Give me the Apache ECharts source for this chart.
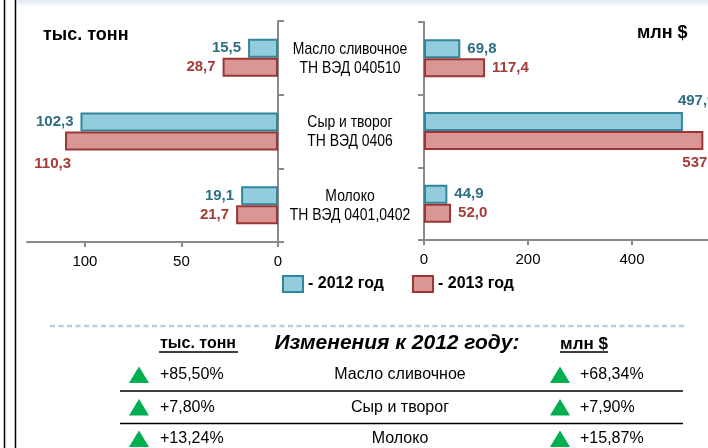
<!DOCTYPE html>
<html><head><meta charset="utf-8">
<script src="https://cdn.jsdelivr.net/npm/echarts@6/dist/echarts.min.js"></script>
<style>html,body{margin:0;padding:0;background:#fff}#c{width:708px;height:448px}</style>
</head><body><div id="c"></div>
<script>
const categories = ['Масло сливочное\nТН ВЭД 040510', 'Сыр и творог\nТН ВЭД 0406', 'Молоко\nТН ВЭД 0401,0402'];
const seriesNames = ['2012 год', '2013 год'];
const tonnes2012 = [15.5, 102.3, 19.1];
const tonnes2013 = [28.7, 110.3, 21.7];
const usd2012 = [69.8, 497.9, 44.9];
const usd2013 = [117.4, 537.2, 52.0];
const leftTicks = [0, 50, 100];
const rightTicks = [0, 200, 400];
const leftUnit = 'тыс. тонн';
const rightUnit = 'млн $';
const tableTitle = 'Изменения к 2012 году:';
const tableProducts = ['Масло сливочное', 'Сыр и творог', 'Молоко'];
const changeTonnes = ['+85,50%', '+7,80%', '+13,24%'];
const changeUsd = ['+68,34%', '+7,90%', '+15,87%'];

const SANS = '"Liberation Sans", Arial, sans-serif';
const AXIS = '#8a8a8a';
const BLUE = {fill: '#93CDDD', border: '#31859C', text: '#2E6E84'};
const RED = {fill: '#D99694', border: '#9B3634', text: '#A33B38'};
const fmt = p => p.value.toFixed(1).replace('.', ',');

// per-item label adjustments (index -> label override)
const labelTweaks = {
  left2013: {1: {offset: [13, 23]}},
  right2012: {1: {offset: [-12, -21]}},
  right2013: {1: {offset: [-28, 22]}}
};
function items(arr, tweaks) {
  return arr.map((v, i) => tweaks && tweaks[i] ? {value: v, label: tweaks[i]} : v);
}
function barSeries(name, xi, data, col, pos, tweaks) {
  return {
    type: 'bar', name, xAxisIndex: xi, yAxisIndex: xi, barWidth: 19, barGap: '0%',
    data: items(data, tweaks),
    itemStyle: {color: col.fill, borderColor: col.border, borderWidth: 2},
    label: {show: true, position: pos, distance: 7, formatter: fmt, color: col.text,
      fontFamily: SANS, fontWeight: 'bold', fontSize: 15}
  };
}
function valueAxis(gi, max, interval, ticks, inverse) {
  return {
    type: 'value', gridIndex: gi, min: 0, max, interval, inverse,
    axisLine: {show: true, lineStyle: {color: AXIS, width: 2}},
    axisTick: {show: true, customValues: ticks, length: 5, lineStyle: {color: AXIS, width: 2}},
    axisLabel: {customValues: ticks, margin: 12, color: '#000', fontSize: 15, fontFamily: SANS},
    splitLine: {show: false}
  };
}
function catAxis(gi, pos) {
  return {
    type: 'category', gridIndex: gi, position: pos, inverse: true, data: categories,
    axisLine: {show: true, lineStyle: {color: AXIS, width: 2}},
    axisTick: {show: true, length: 6, lineStyle: {color: AXIS, width: 2}},
    axisLabel: {show: false}
  };
}

const rowsY = [375, 407.5, 439];
const graphics = [
  {type: 'rect', shape: {x: 17, y: 0, width: 691, height: 5},
    style: {fill: new echarts.graphic.LinearGradient(0, 0, 0, 1, [{offset: 0, color: '#E4EAF3'}, {offset: 1, color: '#F6F8FB'}])}},
  {type: 'line', shape: {x1: 4.5, y1: 0, x2: 4.5, y2: 448}, style: {stroke: '#000', lineWidth: 1.5}},
  {type: 'line', shape: {x1: 15.5, y1: 0, x2: 15.5, y2: 448}, style: {stroke: '#000', lineWidth: 1.5}},
  {type: 'text', x: 43, y: 35, style: {text: leftUnit, font: 'bold 18px ' + SANS, fill: '#000', verticalAlign: 'middle'}},
  {type: 'text', x: 637, y: 33, style: {text: rightUnit, font: 'bold 18px ' + SANS, fill: '#000', verticalAlign: 'middle'}},
  {type: 'line', shape: {x1: 50, y1: 326, x2: 684, y2: 326}, style: {stroke: '#BCCBDF', lineWidth: 2.5, lineDash: [5, 3.5]}},
  {type: 'text', x: 198, y: 344, style: {text: leftUnit, font: 'bold 16px ' + SANS, fill: '#000', align: 'center', verticalAlign: 'middle'}},
  {type: 'line', shape: {x1: 159, y1: 352, x2: 238, y2: 352}, style: {stroke: '#000', lineWidth: 1.5}},
  {type: 'text', x: 397, y: 343, style: {text: tableTitle, font: 'italic bold 21px ' + SANS, fill: '#000', align: 'center', verticalAlign: 'middle'}},
  {type: 'text', x: 584, y: 344, style: {text: rightUnit, font: 'bold 17px ' + SANS, fill: '#000', align: 'center', verticalAlign: 'middle'}},
  {type: 'line', shape: {x1: 560, y1: 352, x2: 608, y2: 352}, style: {stroke: '#000', lineWidth: 1.5}}
];
tableProducts.forEach((p, i) => {
  const y = rowsY[i];
  graphics.push(
    {type: 'polygon', shape: {points: [[129, y + 8], [139, y - 8.5], [149, y + 8]]}, style: {fill: '#00B050'}},
    {type: 'text', x: 160, y, style: {text: changeTonnes[i], font: '16px ' + SANS, fill: '#000', verticalAlign: 'middle'}},
    {type: 'text', x: 400, y, style: {text: p, font: '16px ' + SANS, fill: '#000', align: 'center', verticalAlign: 'middle'}},
    {type: 'polygon', shape: {points: [[550, y + 8], [560, y - 8.5], [570, y + 8]]}, style: {fill: '#00B050'}},
    {type: 'text', x: 580, y, style: {text: changeUsd[i], font: '16px ' + SANS, fill: '#000', verticalAlign: 'middle'}}
  );
  if (i < tableProducts.length - 1) {
    graphics.push({type: 'line', shape: {x1: 120, y1: y + 16, x2: 683, y2: y + 16}, style: {stroke: '#000', lineWidth: 1.5}});
  }
});

const chart = echarts.init(document.getElementById('c'), null, {renderer: 'canvas'});
chart.setOption({
  animation: false,
  textStyle: {fontFamily: SANS},
  grid: [
    {left: 27, top: 21, width: 251, height: 221, outerBoundsMode: 'none'},
    {left: 424, top: 22, width: 312, height: 218, outerBoundsMode: 'none'}
  ],
  xAxis: [valueAxis(0, 130, 50, leftTicks, true), valueAxis(1, 600, 200, rightTicks, false)],
  yAxis: [catAxis(0, 'right'), catAxis(1, 'left')],
  legend: {
    data: seriesNames, left: 282, top: 275, padding: 0, itemWidth: 20, itemHeight: 16, itemGap: 28,
    icon: 'rect', formatter: '- {name}',
    textStyle: {fontFamily: SANS, fontWeight: 'bold', fontSize: 16, color: '#000'}
  },
  series: [
    barSeries(seriesNames[0], 0, tonnes2012, BLUE, 'left'),
    barSeries(seriesNames[1], 0, tonnes2013, RED, 'left', labelTweaks.left2013),
    barSeries(seriesNames[0], 1, usd2012, BLUE, 'right', labelTweaks.right2012),
    barSeries(seriesNames[1], 1, usd2013, RED, 'right', labelTweaks.right2013)
  ],
  graphic: graphics
});

// category labels centred between the two axes (narrow type), positioned from the category scale
const axL = chart.convertToPixel({xAxisIndex: 0}, 0);
const axR = chart.convertToPixel({xAxisIndex: 1}, 0);
const midX = (axL + axR) / 2 - 1;
categories.forEach(c => {
  const y = chart.convertToPixel({yAxisIndex: 0}, c);
  graphics.push({type: 'text', x: midX, y: y + 0.5, scaleX: 0.82,
    style: {text: c, font: '17px ' + SANS, lineHeight: 19, fill: '#000', align: 'center', verticalAlign: 'middle'}});
});
chart.setOption({graphic: graphics});
</script></body></html>
